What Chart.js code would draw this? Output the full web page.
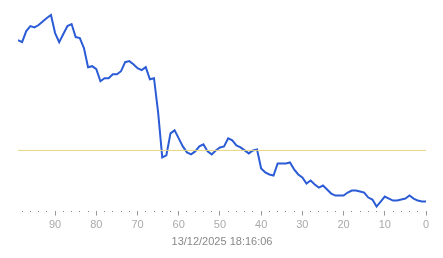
<!DOCTYPE html>
<html>
<head>
<meta charset="utf-8">
<script src="https://cdn.jsdelivr.net/npm/chart.js@4"></script>
<style>
  html, body { margin: 0; padding: 0; background: #fff; }
  #wrap { width: 443px; height: 258px; }
</style>
</head>
<body>
<div id="wrap"><canvas id="c" width="443" height="258"></canvas></div>
<script>
const ages = [
  99, 98, 97, 96, 95, 94, 93, 92, 91, 90,
  89, 88, 87, 86, 85, 84, 83, 82, 81, 80,
  79, 78, 77, 76, 75, 74, 73, 72, 71, 70,
  69, 68, 67, 66, 65, 64, 63, 62, 61, 60,
  59, 58, 57, 56, 55, 54, 53, 52, 51, 50,
  49, 48, 47, 46, 45, 44, 43, 42, 41, 40,
  39, 38, 37, 36, 35, 34, 33, 32, 31, 30,
  29, 28, 27, 26, 25, 24, 23, 22, 21, 20,
  19, 18, 17, 16, 15, 14, 13, 12, 11, 10,
  9, 8, 7, 6, 5, 4, 3, 2, 1, 0
];
const values = [
  85, 84, 89.5, 92, 91.3, 92.5, 94.3, 96, 97.5, 88.5,
  84, 88, 92, 93, 86.5, 86, 81, 71.5, 72, 70.5,
  64.5, 66, 66, 68, 68, 69.5, 74, 74.5, 73, 71,
  70, 71.5, 65.5, 66, 49, 26.5, 27.5, 38.5, 40, 36,
  32, 29, 28, 29.5, 32, 33, 29.5, 28, 30, 31.5,
  32, 36, 35, 32.5, 31.5, 30, 28.5, 30, 30.5, 21,
  19, 18, 17.5, 23.5, 23.5, 23.5, 24, 20.5, 18, 16.5,
  13.5, 15, 13, 11.5, 12.5, 10.5, 8.5, 7.5, 7.5, 7.5,
  9, 10, 10, 9.5, 9, 6.5, 5.5, 2, 4.5, 7,
  6, 5, 5, 5.5, 6, 7.5, 6, 5, 4.5, 4.5
];
const threshold = 30;
const timestamp = '13/12/2025 18:16:06';

const points = ages.map((a, i) => ({ x: a, y: values[i] }));
const limit = [
  { x: ages[0], y: threshold },
  { x: ages[ages.length - 1], y: threshold },
];

new Chart(document.getElementById('c').getContext('2d'), {
  type: 'line',
  data: {
    datasets: [
      {
        data: limit,
        borderColor: '#e5d57f',
        borderWidth: 1,
        pointRadius: 0,
        fill: false,
      },
      {
        data: points,
        borderColor: '#2b5cd6',
        borderWidth: 2,
        pointRadius: 0,
        fill: false,
        tension: 0,
      },
    ],
  },
  options: {
    responsive: false,
    animation: false,
    layout: { padding: { left: 18, right: 17, top: 10, bottom: 5 } },
    plugins: { legend: { display: false }, tooltip: { enabled: false } },
    scales: {
      x: {
        type: 'linear',
        reverse: true,
        min: 0,
        max: 99,
        border: { display: false },
        grid: {
          drawOnChartArea: false,
          drawTicks: true,
          tickLength: 5,
          tickColor: (ctx) => (ctx.tick && ctx.tick.value % 10 === 0 ? '#999' : '#888'),
          tickBorderDash: (ctx) => (ctx.tick && ctx.tick.value % 10 === 0 ? [] : [1, 10]),
        },
        ticks: {
          stepSize: 2,
          includeBounds: false,
          autoSkip: false,
          maxRotation: 0,
          padding: 3,
          color: '#aaa',
          font: { family: 'Liberation Sans, Arial, sans-serif', size: 11 },
          callback: (v) => (v % 10 === 0 ? String(v) : ''),
        },
        title: {
          display: true,
          text: timestamp,
          color: '#888',
          padding: { top: 1, bottom: 4 },
          font: { family: 'Liberation Sans, Arial, sans-serif', size: 11 },
        },
      },
      y: {
        display: false,
        min: 0,
        max: 100,
      },
    },
  },
});
</script>
</body>
</html>
